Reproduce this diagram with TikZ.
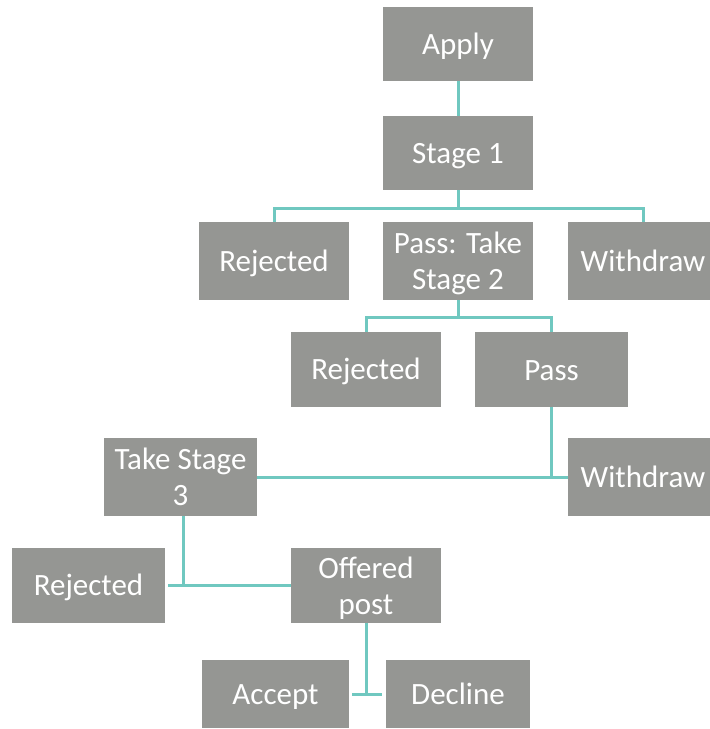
\documentclass[tikz,border=0pt]{standalone}
\usepackage{fontspec}
\setmainfont{Carlito}
\definecolor{boxgray}{RGB}{149,150,147}
\definecolor{teal}{RGB}{112,200,192}
\newcommand\bstrut{\rule[-5pt]{0pt}{31pt}}
\begin{document}
\begin{tikzpicture}[x=1pt,y=-1pt,
  box/.style={fill=boxgray, draw=none, text=white, align=center, inner sep=0pt,
    font=\fontsize{31pt}{36pt}\selectfont},
  link/.style={draw=teal, line width=3pt}]
\useasboundingbox (0,0) rectangle (710,729);
\node[box, minimum width=150pt, minimum height=74pt] (apply) at (458,44) {\bstrut Apply};
\node[box, minimum width=150pt, minimum height=74pt] (s1) at (458,153) {\bstrut Stage 1};
\node[box, minimum width=150pt, minimum height=78pt] (rej1) at (274,261) {\bstrut Rejected};
\node[box, minimum width=150pt, minimum height=78pt] (pass2) at (458,261) {\bstrut Pass: Take\\\bstrut Stage 2};
\node[box, minimum width=150pt, minimum height=78pt] (wd1) at (643,261) {\bstrut Withdraw};
\node[box, minimum width=150pt, minimum height=75pt] (rej2) at (366,369.5) {\bstrut Rejected};
\node[box, minimum width=153pt, minimum height=75pt] (pass) at (551.5,369.5) {\bstrut Pass};
\node[box, minimum width=153pt, minimum height=78pt] (ts3) at (180.5,477) {\bstrut Take Stage\\\bstrut 3};
\node[box, minimum width=150pt, minimum height=78pt] (wd2) at (643,477) {\bstrut Withdraw};
\node[box, minimum width=153pt, minimum height=75pt] (rej3) at (88.5,585.5) {\bstrut Rejected};
\node[box, minimum width=150pt, minimum height=75pt] (off) at (366,585.5) {\bstrut Offered\\\bstrut post};
\node[box, minimum width=147pt, minimum height=68pt] (acc) at (275.5,694) {\bstrut Accept};
\node[box, minimum width=144pt, minimum height=68pt] (dec) at (458,694) {\bstrut Decline};
% connectors
\draw[link] (apply) -- (s1);
\draw[link] (s1.south) -- ++(0,18) coordinate (b1);
\draw[link] (rej1.north) |- (b1) -| (wd1.north);
\draw[link] (pass2.south) -- ++(0,17) coordinate (b2);
\draw[link] (rej2.north) |- (b2) -| (pass.north);
\draw[link] (ts3.east) -- (wd2.west);
\draw[link] (pass.south) -- (pass.south |- wd2.west);
\draw[link] ([xshift=3pt]rej3.east) -- (off.west);
\draw[link] ([xshift=2.5pt]ts3.south) -- ([xshift=2.5pt]ts3.south |- off.west);
\draw[link] ([xshift=3pt]acc.east) -- ([xshift=-4pt]dec.west);
\draw[link] (off.south) -- (off.south |- dec.west);
\end{tikzpicture}
\end{document}
